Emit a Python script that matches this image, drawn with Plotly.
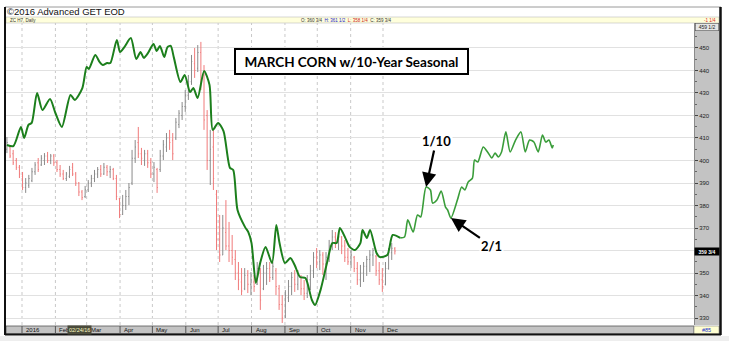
import pandas as pd
import plotly.graph_objects as go

# ---------------- daily bars, ZC H7 (cents/bu) ----------------
bar_open = [405, 406, 403, 400, 397, 393, 388, 389, 391, 395,
            399, 398, 400, 402, 400, 402, 399, 396, 394, 392,
            393, 397, 394, 390, 386, 384, 387, 390, 392, 394,
            396, 394, 397, 395, 396, 392, 383, 376, 380, 384,
            390, 401, 408, 403, 400, 403, 399, 394, 396, 396,
            402, 406, 410, 409, 410, 416, 420, 424, 429, 435,
            443, 441, 448, 438, 420, 400, 406, 385, 365, 358,
            368, 362, 360, 356, 350, 346, 343, 349, 345, 346,
            345, 350, 343, 350, 352, 348, 351, 343, 336, 331,
            339, 344, 347, 345, 348, 343, 341, 347, 351, 357,
            355, 358, 354, 357, 362, 366, 364, 366, 362, 357,
            355, 357, 352, 347, 350, 353, 356, 358, 357.5, 351,
            347, 345, 352, 359, 360.75]
bar_high = [410.4, 406.9, 404.7, 401.1, 398.0, 394.9, 392.2, 393.6, 396.7, 399.3,
            401.1, 402.4, 403.3, 403.8, 402.9, 402.9, 400.2, 398.0, 395.8, 394.9,
            397.6, 398.9, 394.9, 390.4, 386.9, 388.7, 391.3, 393.6, 395.8, 397.1,
            398.0, 398.9, 398.0, 397.6, 396.7, 393.6, 383.3, 384.7, 386.9, 390.0,
            404.7, 409.1, 414.9, 405.6, 404.7, 404.7, 401.1, 399.3, 396.7, 404.7,
            409.1, 412.2, 413.6, 412.2, 418.9, 422.4, 426.0, 431.3, 438.0, 446.9,
            450.0, 451.3, 452.7, 442.4, 422.4, 413.6, 413.6, 386.9, 375.8, 375.8,
            382.4, 372.7, 366.9, 360.2, 354.9, 352.2, 352.2, 351.3, 350.4, 349.1,
            354.9, 352.2, 353.6, 354.9, 354.9, 354.9, 352.2, 344.7, 340.2, 342.4,
            346.9, 350.4, 351.3, 351.3, 349.1, 346.9, 349.1, 353.6, 359.3, 361.1,
            360.2, 359.3, 359.3, 364.7, 369.1, 368.2, 367.8, 366.4, 364.7, 361.1,
            360.2, 357.6, 354.9, 353.6, 354.9, 357.6, 360.2, 361.1, 358.0, 354.9,
            352.2, 354.9, 361.1, 363.3, 361.5]
bar_low = [403.3, 401.1, 398.0, 395.8, 392.2, 386.9, 385.6, 387.8, 390.4, 393.6,
           394.9, 397.6, 398.0, 398.9, 398.4, 397.6, 394.9, 392.7, 391.3, 390.9,
           392.2, 393.1, 388.7, 384.2, 382.4, 383.3, 386.0, 388.2, 390.4, 392.2,
           392.7, 393.6, 393.1, 392.2, 391.3, 382.4, 374.4, 375.8, 378.0, 380.2,
           389.1, 398.9, 401.1, 398.0, 397.6, 396.7, 392.2, 390.4, 385.6, 394.9,
           400.2, 403.8, 404.7, 400.2, 409.1, 414.4, 418.0, 421.6, 426.9, 433.6,
           436.7, 439.3, 431.3, 413.6, 395.8, 389.1, 386.9, 360.2, 354.9, 358.0,
           360.2, 354.9, 353.6, 346.9, 342.4, 340.2, 342.4, 341.1, 340.2, 341.6,
           344.7, 333.6, 342.4, 344.7, 346.0, 346.9, 340.2, 333.6, 327.8, 330.0,
           337.1, 340.2, 341.6, 342.4, 340.2, 338.0, 338.9, 342.4, 347.8, 352.2,
           351.3, 349.1, 346.9, 354.9, 360.2, 361.1, 360.2, 358.4, 354.9, 353.6,
           352.2, 350.4, 344.7, 343.8, 346.0, 348.7, 350.4, 353.1, 348.7, 344.7,
           341.6, 344.5, 351.5, 355.8, 358.25]
bar_close = [408, 402, 399, 397, 394, 388, 390, 392, 395, 398,
             396, 401, 402, 400, 402, 399, 396, 394, 392, 394,
             396, 394, 390, 386, 383.5, 387, 390, 392, 394, 396,
             394, 397, 395, 396, 392, 384, 376, 380, 384, 388,
             401, 406, 403, 401, 403, 399, 394, 397, 388, 402,
             407, 410, 408, 403, 417, 421, 424, 429, 435, 444,
             440, 448, 436, 418, 400, 405, 392, 365, 358, 370,
             362, 360, 357, 350, 347, 342, 349, 345, 347, 344,
             352, 338, 350, 352, 348, 353, 344, 336, 330, 340,
             344, 348, 345, 349, 343, 341, 347, 351, 357, 355,
             358, 354, 357, 362, 366, 364, 366, 362, 357, 355,
             358, 352, 347, 350, 353, 356, 358, 360, 351, 347,
             344, 352, 359, 361, 359.75]
bar_dates = pd.date_range("2015-12-18", "2016-12-12", periods=len(bar_close))

# ---------------- 10-year seasonal pattern ----------------
# days counted from 2016-01-01
seasonal_day = [-14, -8, -1, 2, 6, 9, 14, 19, 26, 31,
                37, 45, 49, 56, 60, 62, 68, 72, 75, 79,
                82, 88, 91, 95, 101, 106, 110, 113, 117, 122,
                125, 128, 132, 135, 138, 141, 147, 151, 156, 159,
                163, 169, 174, 177, 182, 187, 193, 196, 200, 207,
                210, 213, 217, 221, 226, 232, 236, 239, 244, 249,
                253, 258, 263, 269, 272, 277, 283, 288, 292, 295,
                300, 304, 309, 314, 316, 320, 323, 329, 332, 339,
                344, 351, 355, 358, 363, 367, 370, 375, 379, 381,
                385, 389, 393, 395, 398, 404, 408, 411, 414, 418,
                420, 423, 428, 432, 436, 439, 442, 445, 449, 453,
                458, 463, 467, 471, 475, 479, 483, 486, 489, 492,
                493]
seasonal_value = [406.9, 406.4, 414.9, 410.0, 415.8, 416.7, 430.0, 422.4, 427.3, 421.1,
                  414.9, 429.1, 426.9, 432.2, 441.6, 440.7, 446.9, 443.8, 442.4, 443.3,
                  443.3, 453.6, 448.2, 450.4, 454.4, 445.1, 448.2, 445.6, 447.8, 451.8,
                  448.7, 450.9, 446.0, 450.4, 450.9, 445.6, 434.9, 438.0, 430.4, 432.2,
                  427.8, 439.8, 433.6, 413.6, 416.7, 413.1, 396.7, 395.8, 378.0, 370.4,
                  368.2, 363.3, 345.6, 354.4, 361.6, 354.4, 371.3, 363.3, 354.4, 356.7,
                  353.6, 348.2, 347.8, 338.0, 335.8, 342.4, 354.4, 363.3, 363.3, 370.0,
                  365.6, 361.6, 360.2, 363.3, 369.1, 365.6, 369.1, 358.9, 357.1, 358.0,
                  366.9, 365.6, 366.0, 373.6, 368.2, 375.8, 374.9, 388.2, 386.9, 381.1,
                  382.4, 386.4, 379.3, 378.0, 374.4, 382.4, 388.2, 386.9, 390.4, 392.2,
                  400.2, 399.3, 406.0, 403.8, 401.1, 403.3, 401.6, 403.8, 412.7, 403.8,
                  409.1, 412.7, 403.8, 409.1, 408.2, 403.8, 411.3, 408.2, 409.1, 405.6,
                  406.9]
seasonal_dates = pd.Timestamp("2016-01-01") + pd.to_timedelta(seasonal_day, unit="D")
last_bar_day = 351  # seasonal drawn heavier up to the last traded bar

# ---------------- axes / labels ----------------
month_starts = pd.date_range("2016-01-01", "2016-12-01", freq="MS")
month_labels = ["2016", "Feb", "Mar", "Apr", "May", "Jun",
                "Jul", "Aug", "Sep", "Oct", "Nov", "Dec"]
price_ticks = list(range(330, 451, 10))
scale_top = 459.5
callouts = [("1/10", "2017-01-10"), ("2/1", "2017-02-01")]

FONT = "Liberation Sans, Arial, sans-serif"
TITLE_FONT = "Lato, Liberation Sans, sans-serif"

fig = go.Figure()

fig.add_trace(go.Ohlc(
    x=bar_dates, open=bar_open, high=bar_high, low=bar_low, close=bar_close,
    increasing=dict(line=dict(color="#8a8a8a", width=1)),
    decreasing=dict(line=dict(color="#f07a7a", width=1)),
    tickwidth=0.25, showlegend=False, hoverinfo="skip",
))

hist_n = sum(1 for d in seasonal_day if d <= last_bar_day)
fig.add_trace(go.Scatter(
    x=seasonal_dates[:hist_n], y=seasonal_value[:hist_n], mode="lines",
    line=dict(color="#1c7f1c", width=2, shape="spline", smoothing=0.7),
    showlegend=False, hoverinfo="skip",
))
fig.add_trace(go.Scatter(
    x=seasonal_dates[hist_n - 1:], y=seasonal_value[hist_n - 1:], mode="lines",
    line=dict(color="#3a9d3a", width=1.6, shape="spline", smoothing=0.7),
    showlegend=False, hoverinfo="skip",
))

# pixel helpers for frame elements outside the plotting area
W, H = 729, 341
L, R, T, B = 6, 35, 23, 16
PW, PH = W - L - R, H - T - B


def px(x):
    return (x - L) / PW


def py(y):
    return (H - B - y) / PH


shapes = []
# price scale panel and bottom date strip
shapes.append(dict(type="rect", xref="paper", yref="paper", x0=1, x1=px(719), y0=0, y1=1,
                   fillcolor="#c3c3c3", line=dict(width=0), layer="below"))
shapes.append(dict(type="rect", xref="paper", yref="paper", x0=0, x1=1, y0=py(334), y1=py(326),
                   fillcolor="#c3c3c3", line=dict(color="#555", width=0.8), layer="below"))
shapes.append(dict(type="rect", xref="paper", yref="paper", x0=1, x1=px(719), y0=py(334), y1=py(326),
                   fillcolor="#ffffd2", line=dict(color="#888", width=0.6), layer="below"))
# header bar
shapes.append(dict(type="rect", xref="paper", yref="paper", x0=0, x1=px(719), y0=py(23), y1=py(17),
                   fillcolor="#ffffdc", line=dict(color="#bdbdbd", width=0.6), layer="below"))
# bottom grey margin
shapes.append(dict(type="rect", xref="paper", yref="paper", x0=px(0), x1=px(729), y0=py(341), y1=py(336),
                   fillcolor="#eeeeee", line=dict(width=0), layer="below"))
# window frame
shapes.append(dict(type="line", xref="paper", yref="paper", x0=px(5), x1=px(721), y0=py(7), y1=py(7),
                   line=dict(color="#9a9a9a", width=1)))
shapes.append(dict(type="line", xref="paper", yref="paper", x0=px(5), x1=px(5), y0=py(7), y1=py(335),
                   line=dict(color="#111", width=2)))
shapes.append(dict(type="line", xref="paper", yref="paper", x0=px(720.5), x1=px(720.5), y0=py(7), y1=py(335),
                   line=dict(color="#111", width=2.5)))
shapes.append(dict(type="line", xref="paper", yref="paper", x0=px(5), x1=px(721), y0=py(334.5), y1=py(334.5),
                   line=dict(color="#111", width=2)))
# month grid and separators
for d in month_starts:
    shapes.append(dict(type="line", xref="x", yref="paper", x0=d, x1=d, y0=0, y1=1,
                       line=dict(color="#c9c9c9", width=1, dash="dot"), layer="below"))
    shapes.append(dict(type="line", xref="x", yref="paper", x0=d, x1=d, y0=py(334), y1=py(326),
                       line=dict(color="#555", width=1)))

ann = []
ann.append(dict(text="\u00a92016 Advanced GET EOD", xref="paper", yref="paper", x=px(5), y=py(11.8),
                xanchor="left", yanchor="middle", showarrow=False,
                font=dict(family=FONT, size=9.5, color="#111")))
ann.append(dict(text="ZC H7, Daily", xref="paper", yref="paper", x=px(8), y=py(20.2),
                xanchor="left", yanchor="middle", showarrow=False,
                font=dict(family=FONT, size=4.5, color="#333")))
ann.append(dict(text="O: 360 3/4 &nbsp;<span style='color:#2222cc'>H: 361 1/2</span> &nbsp;"
                     "<span style='color:#cc2222'>L: 358 1/4</span> &nbsp;C: 359 3/4",
                xref="paper", yref="paper", x=px(299), y=py(20.2),
                xanchor="left", yanchor="middle", showarrow=False,
                font=dict(family=FONT, size=4.5, color="#333")))
ann.append(dict(text="-1 1/4", xref="paper", yref="paper", x=px(718), y=py(20.2),
                xanchor="right", yanchor="middle", showarrow=False,
                font=dict(family=FONT, size=4.5, color="#dd2222")))
for d, lab in zip(month_starts, month_labels):
    ann.append(dict(text=lab, x=d, xref="x", yref="paper", y=py(330), xanchor="left",
                    yanchor="middle", xshift=2, showarrow=False,
                    font=dict(family=FONT, size=6, color="#111")))
ann.append(dict(text="02/24/16", x="2016-02-23", xref="x", yref="paper", y=py(330),
                xanchor="center", yanchor="middle", showarrow=False, bgcolor="#4a4a3a",
                borderpad=1, font=dict(family=FONT, size=5.5, color="#ffffc8")))
ann.append(dict(text="459 1/2", xref="paper", yref="y", x=px(706.5), y=scale_top,
                xanchor="center", yanchor="middle", showarrow=False, bgcolor="#e6e6e6",
                bordercolor="#555", borderwidth=0.6, borderpad=0.5, width=22,
                font=dict(family=FONT, size=5, color="#222")))
ann.append(dict(text="<b>359 3/4</b>", xref="paper", yref="y", x=px(706.5), y=bar_close[-1],
                xanchor="center", yanchor="middle", showarrow=False, bgcolor="#000",
                borderpad=0.5, width=23, font=dict(family=FONT, size=5, color="#fff")))
ann.append(dict(text="#85", xref="paper", yref="paper", x=px(706.5), y=py(330),
                xanchor="center", yanchor="middle", showarrow=False,
                font=dict(family=FONT, size=5.5, color="#2233cc")))
ann.append(dict(text="<b>MARCH CORN w/10-Year Seasonal</b>", xref="paper", yref="paper",
                x=px(351.5), y=py(61.5), xanchor="center", yanchor="middle", showarrow=False,
                width=231, height=23, borderpad=0, bgcolor="#fff", bordercolor="#000",
                borderwidth=2, font=dict(family=TITLE_FONT, size=13.5, color="#000")))

offsets = {"1/10": (10, -46), "2/1": (41, 28)}
for lab, day in callouts:
    target = (pd.Timestamp(day) - pd.Timestamp("2016-01-01")).days
    k = min(range(len(seasonal_day)), key=lambda i: abs(seasonal_day[i] - target))
    ax, ay = offsets[lab]
    ann.append(dict(text="<b>%s</b>" % lab, x=seasonal_dates[k], y=seasonal_value[k],
                    xref="x", yref="y", ax=ax, ay=ay, showarrow=True, arrowhead=2,
                    arrowsize=1.3, arrowwidth=2.2, arrowcolor="#000", bgcolor="#fff",
                    borderpad=1, standoff=0,
                    font=dict(family=TITLE_FONT, size=13, color="#000")))

# the last-close marker sits on the scale, covering the label closest to it
tick_text = ["" if abs(v - bar_close[-1]) < 5 else str(v) for v in price_ticks]

fig.update_layout(
    width=W, height=H, margin=dict(l=L, r=R, t=T, b=B, pad=0),
    paper_bgcolor="#fff", plot_bgcolor="#fff",
    font=dict(family=FONT),
    shapes=shapes, annotations=ann, showlegend=False,
    xaxis=dict(type="date", range=["2015-12-17 03:40", "2017-09-15 14:20"],
               showgrid=False, showticklabels=False, zeroline=False, showline=False,
               ticks="", rangeslider=dict(visible=False), fixedrange=True),
    yaxis=dict(side="right", range=[326.9, 461.1], tickvals=price_ticks, ticktext=tick_text,
               ticks="outside", ticklen=3, tickcolor="#444", tickwidth=1,
               tickfont=dict(family=FONT, size=6, color="#222"),
               showgrid=True, gridcolor="#e1e1e1", gridwidth=1, zeroline=False,
               showline=True, linecolor="#8a8a8a", linewidth=1,
               minor=dict(dtick=5, tick0=330, ticks="outside", ticklen=2, tickcolor="#666", showgrid=False),
               fixedrange=True),
)

fig.write_html("out.html")
